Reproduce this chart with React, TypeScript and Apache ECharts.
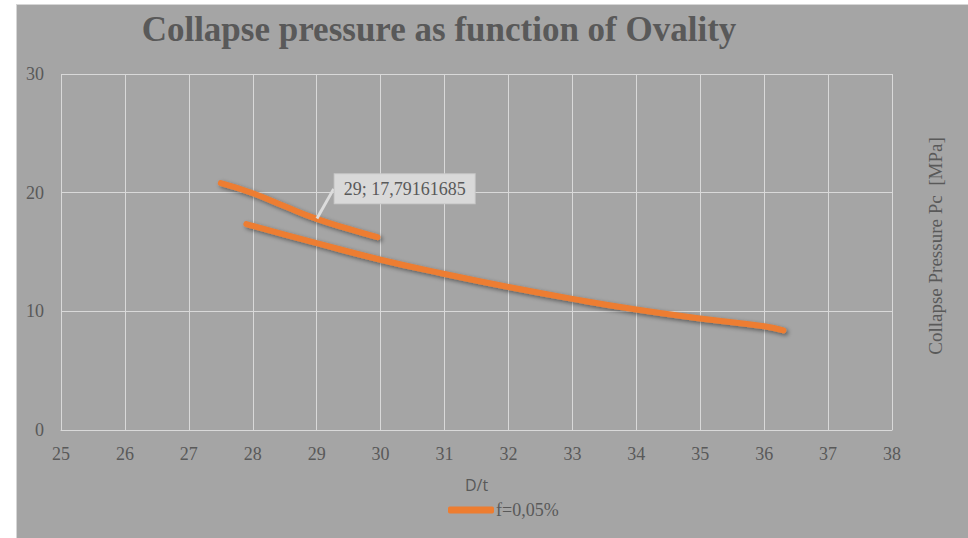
import React, { useEffect, useRef } from "react";
import * as echarts from "echarts";

const titleText = "Collapse pressure as function of Ovality";
const xAxisName = "D/t";
const yAxisName = "Collapse Pressure Pc  [MPa]";
const seriesName = "f=0,05%";

// Lower (main) curve
const lowerX = [27.9, 28, 29, 30, 31, 32, 33, 34, 35, 36, 36.3];
const lowerY = [17.35, 17.2, 15.75, 14.35, 13.15, 12.05, 11.05, 10.15, 9.4, 8.75, 8.4];

// Upper curve
const upperX = [27.5, 28, 28.5, 29, 29.5, 29.95];
const upperY = [20.8, 19.95, 18.85, 17.79161685, 16.95, 16.25];

const labelIndex = 3;
const labelText = "29; 17,79161685";

const SERIF = "'Liberation Serif', 'Times New Roman', serif";
const TXT = "#595959";
const ORANGE = "#ED7D31";

export default function App() {
  const ref = useRef<HTMLDivElement>(null);
  useEffect(() => {
    if (!ref.current) return;
    const chart = echarts.init(ref.current, undefined, { renderer: "svg" });
    const lineStyle = {
      color: ORANGE,
      width: 6,
      cap: "round",
      shadowColor: "rgba(0,0,0,0.45)",
      shadowBlur: 4,
      shadowOffsetX: 2,
      shadowOffsetY: 2,
    };
    chart.setOption({
      animation: false,
      backgroundColor: "#a5a5a5",
      title: {
        text: titleText,
        left: 417,
        top: 2,
        textAlign: "center",
        textStyle: { fontFamily: SERIF, fontSize: 35, fontWeight: "bold", color: TXT },
      },
      grid: { left: 44, right: 76, top: 69, bottom: 108, containLabel: false },
      legend: {
        data: [{ name: seriesName, icon: "roundRect" }],
        left: 426,
        top: 491,
        itemWidth: 46,
        itemHeight: 7,
        itemGap: 4,
        textStyle: { fontFamily: SERIF, fontSize: 18, color: TXT, padding: [0, 0, 0, -3] },
      },
      xAxis: {
        type: "value",
        min: 25,
        max: 38,
        interval: 1,
        name: xAxisName,
        nameLocation: "middle",
        nameGap: 47,
        nameTextStyle: { fontFamily: "'Open Sans', sans-serif", fontSize: 16, color: TXT },
        axisLine: { show: true, lineStyle: { color: "#d9d9d9", width: 1 } },
        axisTick: { show: false },
        axisLabel: { fontFamily: SERIF, fontSize: 18, color: TXT, margin: 15 },
        splitLine: { show: true, lineStyle: { color: "#d9d9d9", width: 1 } },
      },
      yAxis: [
        {
          type: "value",
          min: 0,
          max: 30,
          interval: 10,
          axisLine: { show: false },
          axisTick: { show: false },
          axisLabel: { fontFamily: SERIF, fontSize: 18, color: TXT, margin: 17 },
          splitLine: { show: true, lineStyle: { color: "#d9d9d9", width: 1 } },
        },
        {
          type: "value",
          min: 0,
          max: 30,
          interval: 10,
          position: "right",
          name: yAxisName,
          nameLocation: "middle",
          nameRotate: 90,
          nameGap: 34,
          nameTextStyle: { fontFamily: SERIF, fontSize: 19, color: TXT, padding: [0, 0, 0, 12] },
          axisLine: { show: false },
          axisTick: { show: false },
          axisLabel: { show: false },
          splitLine: { show: false },
        },
      ],
      series: [
        {
          name: seriesName,
          type: "line",
          smooth: true,
          symbol: "none",
          color: ORANGE,
          lineStyle,
          data: lowerX.map((x, i) => [x, lowerY[i]]),
          z: 3,
        },
        {
          name: "upper",
          type: "line",
          smooth: true,
          showSymbol: true,
          symbol: "circle",
          symbolSize: 1,
          color: ORANGE,
          itemStyle: { color: "rgba(0,0,0,0)", borderWidth: 0 },
          lineStyle,
          labelLayout: { dx: 88, dy: -15 },
          labelLine: { show: true, smooth: false, lineStyle: { color: "#dcdcdc", width: 3 } },
          data: upperX.map((x, i) => {
            if (i === labelIndex) {
              return {
                value: [x, upperY[i]],
                label: {
                  show: true,
                  formatter: labelText,
                  position: "top",
                  distance: 0,
                  fontFamily: SERIF,
                  fontSize: 18,
                  color: TXT,
                  backgroundColor: "#d9d9d9",
                  borderColor: "#c9c9c9",
                  borderWidth: 1,
                  padding: [6, 9, 5, 9],
                },
              };
            }
            return { value: [x, upperY[i]], label: { show: false } };
          }),
          z: 4,
        },
      ],
    });
    return () => chart.dispose();
  }, []);
  return (
    <div style={{ position: "fixed", left: 0, top: 0, width: 968, height: 538, background: "#ffffff" }}>
      <div
        style={{
          position: "absolute",
          left: 16,
          top: 4,
          width: 952,
          height: 534,
          borderLeft: "1px solid #d6d6d6",
          borderTop: "1px solid #d6d6d6",
          boxSizing: "border-box",
        }}
      >
        <div ref={ref} style={{ width: 951, height: 533 }} />
      </div>
    </div>
  );
}
